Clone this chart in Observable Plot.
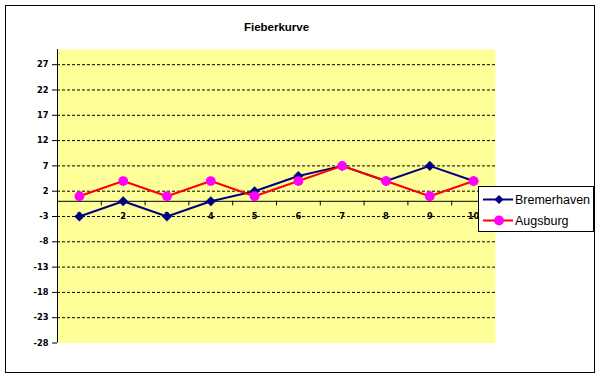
<!DOCTYPE html>
<html><head><meta charset="utf-8">
<script src="https://cdn.jsdelivr.net/npm/d3@7"></script>
<script src="https://cdn.jsdelivr.net/npm/@observablehq/plot@0.6"></script>
<style>
body{margin:0;background:#fff;}
#wrap{position:relative;width:601px;height:379px;overflow:hidden;}
#border{position:absolute;left:5px;top:5px;width:588px;height:366px;border:1px solid #000;pointer-events:none;}
#legend{position:absolute;left:478px;top:186px;width:114px;height:44px;border:1px solid #000;background:#fff;font-family:"Liberation Sans",Arial,sans-serif;font-size:12.5px;}
#legend svg{position:absolute;left:0;top:0;}
</style></head><body><div id="wrap"></div>
<script>
const title = "Fieberkurve";
const categories = [1,2,3,4,5,6,7,8,9,10];
const bremerhaven = [-3,0,-3,0,2,5,7,4,7,4];
const augsburg = [1,4,1,4,1,4,7,4,1,4];
const yTicks = [-28,-23,-18,-13,-8,-3,2,7,12,17,22,27];
const seriesNames = ["Bremerhaven","Augsburg"];
const seriesColors = ["#000080","#FF0000"];
const markerColors = ["#000080","#FF00FF"];

const brem = categories.map((c,i)=>({x:c,y:bremerhaven[i]}));
const augs = categories.map((c,i)=>({x:c,y:augsburg[i]}));
const boundaries = categories.map(c=>c+0.5);

const plot = Plot.plot({
  width:601, height:379,
  marginLeft:57, marginRight:106, marginTop:49, marginBottom:36.5,
  x:{domain:[0.5,10.5], axis:null},
  y:{domain:[-28,30], axis:null},
  style:{background:"transparent", fontFamily:"'DejaVu Sans',sans-serif", overflow:"visible"},
  marks:[
    Plot.frame({fill:"#FFFF99", stroke:null}),
    Plot.ruleY(yTicks.filter(t=>t>-28), {stroke:"#000", strokeWidth:1, strokeDasharray:"3,2"}),
    Plot.axisY({ticks:yTicks, anchor:"left", label:null, tickSize:5, tickPadding:4, tickFormat:d=>String(d),
      fontSize:8.3, fontWeight:"bold", fill:"#000", stroke:"#000"}),
    Plot.ruleX([0.5], {stroke:"#000", strokeWidth:1}),
    Plot.ruleY([0], {stroke:"#000", strokeWidth:1}),
    Plot.ruleX(boundaries, {y1:0, y2:-0.9, stroke:"#000", strokeWidth:1}),
    Plot.text(categories, {x:d=>d, y:0, dy:15, text:d=>String(d), fontSize:8.3, fontWeight:"bold", fill:"#000"}),
    Plot.line(brem, {x:"x", y:"y", stroke:seriesColors[0], strokeWidth:2}),
    Plot.line(augs, {x:"x", y:"y", stroke:seriesColors[1], strokeWidth:2}),
    Plot.dot(brem, {x:"x", y:"y", symbol:"diamond2", r:4.3, fill:markerColors[0], stroke:markerColors[0], strokeWidth:0.5}),
    Plot.dot(augs, {x:"x", y:"y", r:4.9, fill:markerColors[1], stroke:null}),
    Plot.text([title], {frameAnchor:"top", dy:-27, fontSize:11.5, fontWeight:"bold",
      fontFamily:"'Liberation Sans',Arial,sans-serif", fill:"#000"})
  ]
});
const wrap = document.getElementById("wrap");
wrap.appendChild(plot);
const border = document.createElement("div"); border.id="border"; wrap.appendChild(border);

// legend
const legend = document.createElement("div"); legend.id="legend";
const ns = "http://www.w3.org/2000/svg";
const svg = document.createElementNS(ns,"svg");
svg.setAttribute("width",114); svg.setAttribute("height",44);
seriesNames.forEach((name,i)=>{
  const cy = 12.5 + i*21;
  const ln = document.createElementNS(ns,"line");
  ln.setAttribute("x1",4); ln.setAttribute("x2",34); ln.setAttribute("y1",cy); ln.setAttribute("y2",cy);
  ln.setAttribute("stroke",seriesColors[i]); ln.setAttribute("stroke-width",2);
  svg.appendChild(ln);
  const cx = 20;
  let m;
  if(i===0){
    m = document.createElementNS(ns,"path");
    m.setAttribute("d",`M${cx},${cy-4.5}L${cx+4.5},${cy}L${cx},${cy+4.5}L${cx-4.5},${cy}Z`);
  } else {
    m = document.createElementNS(ns,"circle");
    m.setAttribute("cx",cx); m.setAttribute("cy",cy); m.setAttribute("r",4.9);
  }
  m.setAttribute("fill",markerColors[i]);
  svg.appendChild(m);
  const t = document.createElementNS(ns,"text");
  t.setAttribute("x",36); t.setAttribute("y",cy); t.setAttribute("dy","0.35em");
  t.setAttribute("font-family","'Liberation Sans',Arial,sans-serif"); t.setAttribute("font-size","12.5");
  t.textContent = name;
  svg.appendChild(t);
});
legend.appendChild(svg);
wrap.appendChild(legend);
</script></body></html>
